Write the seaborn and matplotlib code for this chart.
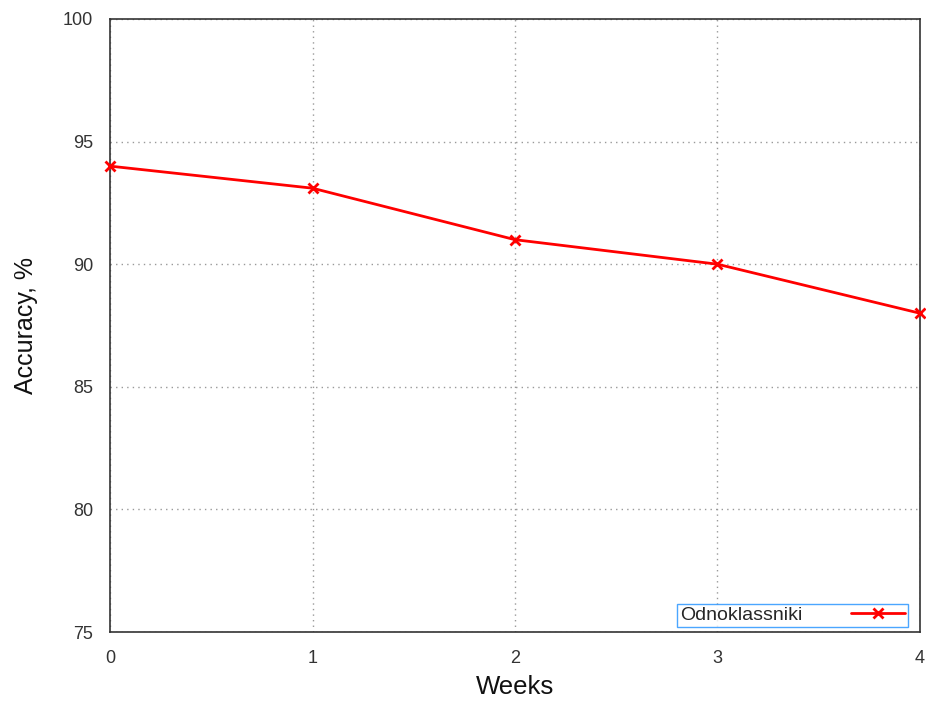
import matplotlib
matplotlib.use("Agg")
import matplotlib.pyplot as plt
import seaborn as sns
import pandas as pd

weeks = [0, 1, 2, 3, 4]
accuracy = [94.0, 93.1, 91.0, 90.0, 88.0]
series_name = "Odnoklassniki"
x_ticks = [0, 1, 2, 3, 4]
y_ticks = [75, 80, 85, 90, 95, 100]

sns.set_style("white")
plt.rcParams['font.family'] = ['Liberation Sans', 'DejaVu Sans']

df = pd.DataFrame({"Weeks": weeks, "Accuracy": accuracy, "series": series_name})

fig = plt.figure(figsize=(9.26, 7.01), dpi=100)
ax = fig.add_axes([0.1188, 0.0984, 0.8747, 0.8745])

sns.lineplot(data=df, x="Weeks", y="Accuracy", ax=ax, color="#ff0000", lw=2,
             marker="x", markersize=7, markeredgewidth=2, markeredgecolor="#ff0000",
             label=series_name, clip_on=False, zorder=5)

ax.set_xlim(0, 4)
ax.set_ylim(75, 100)
ax.set_xticks(x_ticks)
ax.set_yticks(y_ticks)
ax.tick_params(direction="in", length=6, labelsize=13, colors="#333333")
ax.tick_params(axis="x", pad=13)
ax.tick_params(axis="y", pad=12)
ax.grid(True, color="#999999", linestyle=(0, (1, 3)), linewidth=1)
for s in ax.spines.values():
    s.set_color("#333333")
    s.set_linewidth(1.2)
ax.set_xlabel("Weeks", fontsize=18.5, color="#111111", labelpad=6)
ax.set_ylabel("Accuracy, %", fontsize=18, color="#111111", labelpad=18)

leg = ax.legend(loc="lower right", bbox_to_anchor=(908 / 926, (701 - 627) / 701),
                bbox_transform=fig.transFigure, markerfirst=False, frameon=True,
                fancybox=False, fontsize=14, borderaxespad=0, handlelength=2.8,
                borderpad=0.15, handletextpad=2.5)
leg.get_frame().set_edgecolor("#1e90ff")
leg.get_frame().set_linewidth(1)

fig.savefig("out.png", dpi=100)
